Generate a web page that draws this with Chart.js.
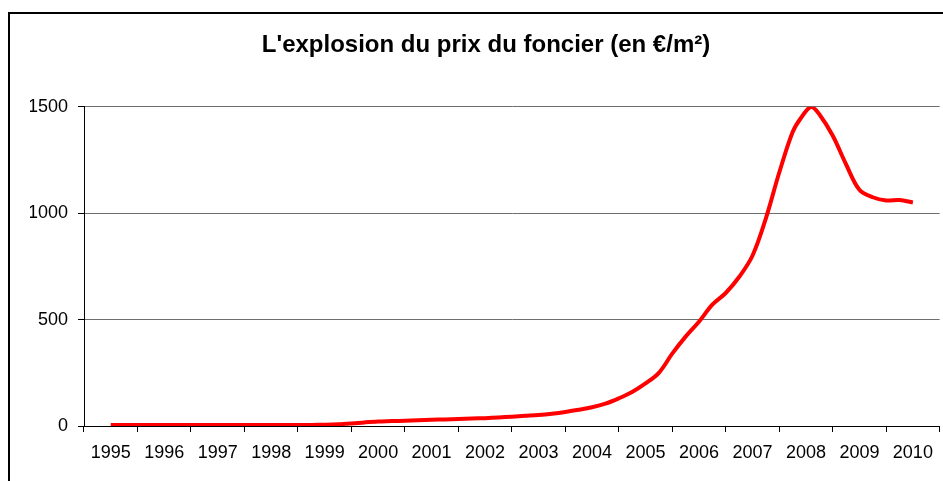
<!DOCTYPE html>
<html lang="fr">
  <head>
    <meta charset="UTF-8">
    <title>L'explosion du prix du foncier</title>
    <style>
      body { margin: 0; background: #fff; overflow: hidden; }
      .frame { position: absolute; left: 8px; top: 12px; width: 1000px; height: 600px; border-left: 2px solid #000; border-top: 2px solid #000; }
      #chart { position: absolute; left: 0; top: 0; }
    </style>
  </head>
  <body>
    <div class="frame"></div>
    <canvas id="chart" width="943" height="481"></canvas>
    <script src="https://cdn.jsdelivr.net/npm/chart.js"></script>
    <script>
      // year labels on the axis
      const yearLabels = ['1995', '1996', '1997', '1998', '1999', '2000', '2001', '2002',
        '2003', '2004', '2005', '2006', '2007', '2008', '2009', '2010'];

      // quarterly points
      const dates = [
        1995, 1995.25, 1995.5, 1995.75, 1996, 1996.25, 1996.5, 1996.75,
        1997, 1997.25, 1997.5, 1997.75, 1998, 1998.25, 1998.5, 1998.75,
        1999, 1999.25, 1999.5, 1999.75, 2000, 2000.25, 2000.5, 2000.75,
        2001, 2001.25, 2001.5, 2001.75, 2002, 2002.25, 2002.5, 2002.75,
        2003, 2003.25, 2003.5, 2003.75, 2004, 2004.25, 2004.5, 2004.75,
        2005, 2005.25, 2005.5, 2005.75, 2006, 2006.25, 2006.5, 2006.75,
        2007, 2007.25, 2007.5, 2007.75, 2007.9, 2008.1, 2008.25, 2008.5, 2008.75,
        2009, 2009.25, 2009.5, 2009.75, 2010
      ];
      const prices = [
        5, 5, 5, 5, 5, 5, 5, 5,
        5, 5, 5, 5, 5, 5, 5, 5,
        6, 8, 12, 17, 21, 23, 25, 27,
        29, 31, 33, 35, 37, 40, 44, 48,
        52, 58, 66, 76, 88, 105, 130, 160,
        200, 250, 340, 420, 490, 570, 625, 700,
        800, 975, 1190, 1380, 1445, 1500, 1465, 1365, 1230,
        1110, 1075, 1060, 1062, 1050
      ];

      const yTicks = [0, 500, 1000, 1500];

      const points = dates.map((d, i) => ({ x: d, y: prices[i] }));
      const axisFont = { family: "'Liberation Sans', Arial, sans-serif", size: 18 };

      new Chart(document.getElementById('chart'), {
        type: 'line',
        data: {
          datasets: [{
            label: 'Prix du foncier',
            data: points,
            xAxisID: 'x',
            borderColor: '#ff0000',
            borderWidth: 4,
            pointRadius: 0,
            tension: 0.35,
            fill: false
          }]
        },
        options: {
          responsive: false,
          animation: false,
          // left padding shifts the centred title to the right, like the original
          layout: { padding: { left: 30, right: 1, top: 0, bottom: 0 } },
          plugins: {
            legend: { display: false },
            tooltip: { enabled: false },
            title: {
              display: true,
              text: "L'explosion du prix du foncier (en €/m²)",
              color: '#000',
              font: { family: "'Liberation Sans', Arial, sans-serif", size: 24, weight: 'bold' },
              padding: { top: 31, bottom: 47 }
            }
          },
          scales: {
            x: {
              type: 'linear',
              display: false,
              min: 1994.5,
              max: 2010.5
            },
            years: {
              type: 'category',
              position: 'bottom',
              labels: yearLabels,
              offset: true,
              afterFit: (scale) => { scale.height = 55; },
              border: { color: '#000', width: 1 },
              grid: { offset: true, drawOnChartArea: false, tickLength: 6, color: '#000' },
              ticks: { color: '#000', font: axisFont, padding: 10, maxRotation: 0, autoSkip: false }
            },
            y: {
              min: 0,
              max: 1500,
              afterFit: (scale) => { scale.width = 54; },
              afterBuildTicks: (scale) => { scale.ticks = yTicks.map(v => ({ value: v })); },
              border: { color: '#000', width: 1 },
              grid: { color: '#6e6e6e', tickColor: '#000', tickLength: 6 },
              ticks: { color: '#000', font: axisFont, padding: 10, callback: (v) => String(v) }
            }
          }
        }
      });
    </script>
  </body>
</html>
